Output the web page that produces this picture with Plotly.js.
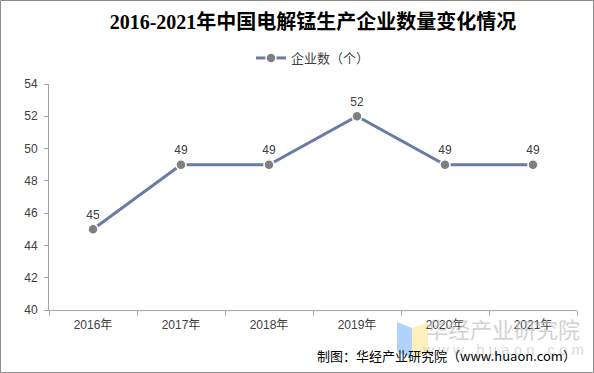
<!DOCTYPE html>
<html><head><meta charset="utf-8">
<script src="https://cdn.plot.ly/plotly-3.0.1.min.js"></script>
<style>html,body{margin:0;padding:0;background:#fff}#c{width:594px;height:373px}</style>
</head><body><div id="c"></div>
<script>
const years = ['2016年','2017年','2018年','2019年','2020年','2021年'];
const companies = [45,49,49,52,49,49];
const seriesName = '企业数（个）';
const titleText = '2016-2021年中国电解锰生产企业数量变化情况';
const sourceText = '制图：华经产业研究院（www.huaon.com）';

const L=49, R=577, T=84, B=310, W=594, H=373;
const px = x => (x-L)/(R-L);
const py = y => (B-y)/(B-T);
const sans = 'Liberation Sans, Arial, Noto Sans CJK SC, sans-serif';

const trace = {
  x: years, y: companies, name: seriesName, type:'scatter',
  mode:'lines+markers+text',
  text: companies.map(String), textposition:'top center',
  textfont:{family:sans,size:12,color:'#404040'},
  line:{color:'#6a7ca6',width:3},
  marker:{color:'#7f7f7f',size:10,line:{color:'#ffffff',width:1.5}},
  cliponaxis:false
};

const shapes = [
  {type:'rect',xref:'paper',yref:'paper',x0:px(0.5),x1:px(593.5),y0:py(0.5),y1:py(372.5),line:{color:'#8c8c8c',width:1},layer:'below'},
  {type:'path',xref:'paper',yref:'paper',path:`M ${px(397)} ${py(322)} L ${px(412)} ${py(328)} L ${px(412)} ${py(358)} L ${px(397)} ${py(352)} Z`,fillcolor:'rgba(150,195,250,0.75)',line:{width:0},layer:'below'},
  {type:'path',xref:'paper',yref:'paper',path:`M ${px(412)} ${py(328)} L ${px(428)} ${py(322)} L ${px(428)} ${py(352)} L ${px(412)} ${py(358)} Z`,fillcolor:'rgba(253,236,170,0.8)',line:{width:0},layer:'below'}
];

const annotations = [
  {text:'华经产业研究院',xref:'paper',yref:'paper',x:px(503),y:py(328),xanchor:'center',yanchor:'middle',showarrow:false,
   font:{family:'Noto Sans CJK SC, sans-serif',size:22,color:'rgba(190,190,190,0.7)'}},
  {text:'w w w . h u a o n . c o m',xref:'paper',yref:'paper',x:px(503),y:py(349),xanchor:'center',yanchor:'middle',showarrow:false,
   font:{family:sans,size:15,color:'rgba(200,200,200,0.7)'}},
  {text:sourceText,xref:'paper',yref:'paper',x:px(578),y:py(355),xanchor:'right',yanchor:'middle',showarrow:false,
   font:{family:'Noto Sans CJK SC, sans-serif',size:13,color:'#000000'}}
];

const layout = {
  width:W, height:H, margin:{l:L,r:W-R,t:T,b:H-B},
  paper_bgcolor:'#ffffff', plot_bgcolor:'#ffffff',
  title:{text:'<b>'+titleText+'</b>',x:0.5,xref:'paper',xanchor:'center',y:1-22/H,yanchor:'middle',
    font:{family:'Liberation Serif, Noto Sans CJK SC, serif',size:20,color:'#000000'}},
  showlegend:true,
  legend:{orientation:'h',x:0.5,xanchor:'center',y:py(58),yanchor:'middle',
    font:{family:'Noto Sans CJK SC, sans-serif',size:13,color:'#404040'},itemwidth:30},
  xaxis:{type:'category',range:[-0.5,5.5],autorange:false,showline:true,linecolor:'#a6a6a6',linewidth:1,ticks:'outside',tickson:'boundaries',
    ticklen:5,tickcolor:'#a6a6a6',showgrid:false,zeroline:false,ticklabelstandoff:4,
    tickfont:{family:sans,size:12,color:'#404040'}},
  yaxis:{range:[40,54],dtick:2,tick0:40,showline:true,linecolor:'#a6a6a6',linewidth:1,showgrid:false,zeroline:false,
    ticks:'outside',ticklen:4,tickcolor:'#a6a6a6',
    tickfont:{family:sans,size:12,color:'#404040'},ticklabelstandoff:4},
  shapes:shapes, annotations:annotations
};
Plotly.newPlot('c',[trace],layout,{displayModeBar:false,staticPlot:true});
</script></body></html>
